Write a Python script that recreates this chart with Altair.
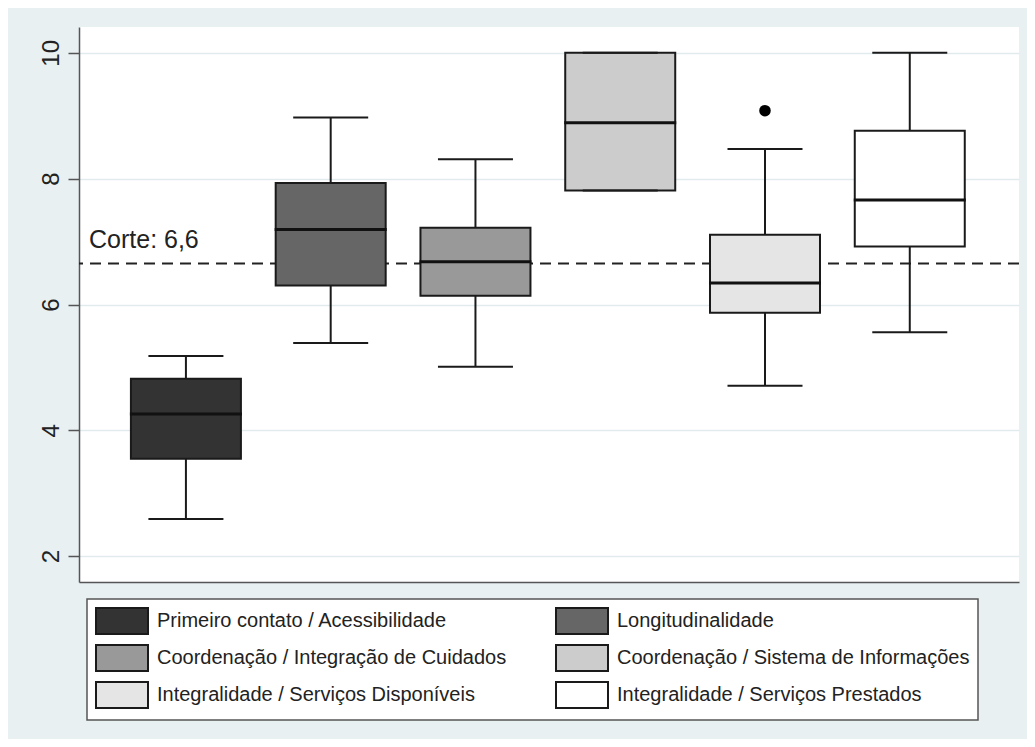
import altair as alt
import pandas as pd

# ---- data ----
categories = [
    "Primeiro contato / Acessibilidade",
    "Longitudinalidade",
    "Coordenação / Integração de Cuidados",
    "Coordenação / Sistema de Informações",
    "Integralidade / Serviços Disponíveis",
    "Integralidade / Serviços Prestados",
]
whisker_low = [2.59, 5.39, 5.01, 7.81, 4.71, 5.56]
q1 = [3.55, 6.30, 6.14, 7.81, 5.87, 6.92]
median = [4.26, 7.19, 6.68, 8.89, 6.34, 7.66]
q3 = [4.82, 7.93, 7.22, 10.0, 7.11, 8.76]
whisker_high = [5.18, 8.97, 8.31, 10.0, 8.47, 10.0]
outlier_cat = ["Integralidade / Serviços Disponíveis"]
outlier_val = [9.08]
fill_colors = ["#333333", "#666666", "#999999", "#cccccc", "#e5e5e5", "#ffffff"]
cutoff_value = [6.65]
cutoff_label = ["Corte: 6,6"]
y_ticks = [2, 4, 6, 8, 10]

# ---- tables built from the lists ----
boxes = pd.DataFrame({
    "category": categories,
    "pos": list(range(1, len(categories) + 1)),
    "wlo": whisker_low, "q1": q1, "median": median, "q3": q3, "whi": whisker_high,
})
outliers = pd.DataFrame({
    "category": outlier_cat,
    "pos": [categories.index(c) + 1 for c in outlier_cat],
    "value": outlier_val,
})
cut = pd.DataFrame({"cutoff": cutoff_value, "label": cutoff_label})

# legend is filled column by column; order the domain so rows read left-to-right
legend_order = [0, 2, 4, 1, 3, 5]
legend_domain = [categories[i] for i in legend_order]
legend_range = [fill_colors[i] for i in legend_order]

FONT = "Liberation Sans"
DARK = "#1a1a1a"

xscale = alt.Scale(domain=[0.296, 6.72], nice=False, zero=False)
yscale = alt.Scale(domain=[1.59, 10.41], nice=False, zero=False)

x_axis = alt.Axis(labels=False, ticks=False, grid=False, title=None,
                  domain=True, domainColor="#555555", domainWidth=1.5)
y_axis = alt.Axis(values=y_ticks, format="d", title=None,
                  labelAngle=270, labelAlign="center", labelBaseline="alphabetic",
                  labelPadding=10, labelFont=FONT, labelFontSize=24, labelColor="#222222",
                  tickSize=11, tickWidth=1.5, tickColor="#555555",
                  domainColor="#555555", domainWidth=1.5,
                  grid=True, gridColor="#e1eaed", gridWidth=1.5)

def X(field):
    return alt.X(field, type="quantitative", scale=xscale, axis=x_axis)

def Y(field):
    return alt.Y(field, type="quantitative", scale=yscale, axis=y_axis)

base = alt.Chart(boxes)

cut_rule = alt.Chart(cut).mark_rule(strokeDash=[11, 7], strokeWidth=2, color="#222222").encode(
    y=Y("cutoff")
)
cut_text = alt.Chart(cut).mark_text(
    align="left", baseline="alphabetic", dy=-16, fontSize=25, font=FONT, color="#222222"
).encode(x=alt.value(10), y=Y("cutoff"), text="label:N")

whisk_up = base.mark_rule(strokeWidth=2, color=DARK).encode(
    x=X("pos"), y=Y("q3"), y2="whi"
)
whisk_dn = base.mark_rule(strokeWidth=2, color=DARK).encode(
    x=X("pos"), y=Y("wlo"), y2="q1"
)
cap_up = base.mark_tick(orient="horizontal", size=75, thickness=2, color=DARK, opacity=1).encode(
    x=X("pos"), y=Y("whi")
)
cap_dn = base.mark_tick(orient="horizontal", size=75, thickness=2, color=DARK, opacity=1).encode(
    x=X("pos"), y=Y("wlo")
)
box = base.mark_bar(size=110, stroke=DARK, strokeWidth=2, opacity=1).encode(
    x=X("pos"), y=Y("q1"), y2="q3",
    fill=alt.Fill("category:N", scale=alt.Scale(domain=legend_domain, range=legend_range),
                  legend=alt.Legend(
                      title=None, orient="none", legendX=8, legendY=572, columns=2,
                      symbolType="M-1,-1H3V1H-1Z", symbolSize=676,
                      symbolStrokeColor=DARK, symbolStrokeWidth=2, symbolOpacity=1,
                      labelFont=FONT, labelFontSize=20, labelColor="#222222",
                      labelLimit=600, labelOffset=34,
                      rowPadding=3, columnPadding=45, padding=8,
                      fillColor="white", strokeColor="#555555",
                  )),
)
med = base.mark_tick(orient="horizontal", size=112, thickness=3, color="#111111", opacity=1).encode(
    x=X("pos"), y=Y("median")
)
out = alt.Chart(outliers).mark_circle(size=133, color="#000000", opacity=1).encode(
    x=X("pos"), y=Y("value")
)

chart = alt.layer(
    cut_rule, whisk_up, whisk_dn, box, med, cap_up, cap_dn, out, cut_text
).properties(
    width=940, height=555,
    autosize=alt.AutoSizeParams(type="none"),
    padding={"left": 71, "top": 19, "right": 8, "bottom": 157},
    background="#e8f0f2",
).configure_view(
    stroke=None, fill="white"
).configure_legend(
    strokeWidth=1.5, cornerRadius=0
)

chart.save("out.html", embed_options={"renderer": "svg", "actions": False})
